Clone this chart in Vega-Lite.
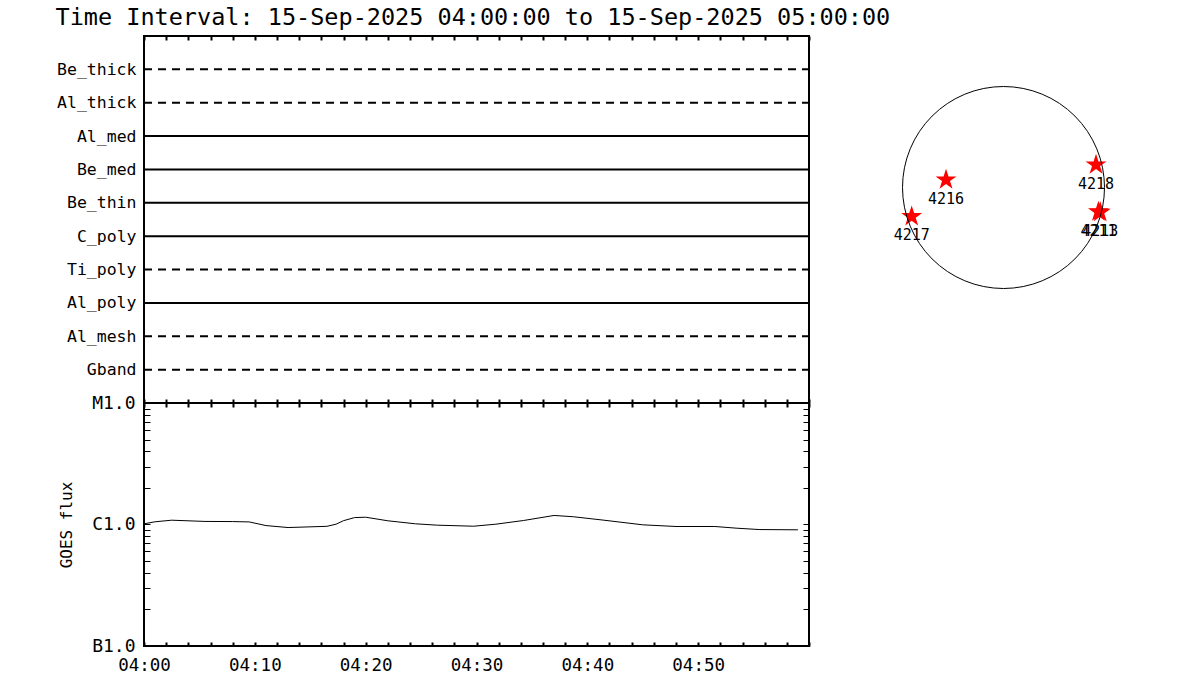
{
  "$schema": "https://vega.github.io/schema/vega-lite/v6.json",
  "background": "white",
  "padding": {"left": 55, "top": 5, "right": 5, "bottom": 5},
  "title": {
    "text": "Time Interval: 15-Sep-2025 04:00:00 to 15-Sep-2025 05:00:00",
    "anchor": "start", "font": "DejaVu Sans Mono", "fontSize": 23.5,
    "fontWeight": "normal", "color": "black", "offset": 5
  },
  "config": {
    "view": {"stroke": "black", "strokeWidth": 2},
    "axis": {"grid": false, "domain": false, "tickColor": "black", "labelColor": "black", "titleColor": "black"}
  },
  "datasets": {
    "goes": [
      {"time": "2025-09-15T04:00:00", "flux": 1.013e-6},
      {"time": "2025-09-15T04:01:00", "flux": 1.053e-6},
      {"time": "2025-09-15T04:02:30", "flux": 1.085e-6},
      {"time": "2025-09-15T04:05:30", "flux": 1.06e-6},
      {"time": "2025-09-15T04:08:00", "flux": 1.057e-6},
      {"time": "2025-09-15T04:09:30", "flux": 1.05e-6},
      {"time": "2025-09-15T04:11:00", "flux": 0.98e-6},
      {"time": "2025-09-15T04:13:00", "flux": 0.944e-6},
      {"time": "2025-09-15T04:16:30", "flux": 0.966e-6},
      {"time": "2025-09-15T04:17:20", "flux": 1.006e-6},
      {"time": "2025-09-15T04:18:00", "flux": 1.075e-6},
      {"time": "2025-09-15T04:19:00", "flux": 1.14e-6},
      {"time": "2025-09-15T04:20:00", "flux": 1.148e-6},
      {"time": "2025-09-15T04:22:00", "flux": 1.073e-6},
      {"time": "2025-09-15T04:24:30", "flux": 1.013e-6},
      {"time": "2025-09-15T04:26:30", "flux": 0.987e-6},
      {"time": "2025-09-15T04:29:45", "flux": 0.968e-6},
      {"time": "2025-09-15T04:31:45", "flux": 1.006e-6},
      {"time": "2025-09-15T04:34:15", "flux": 1.079e-6},
      {"time": "2025-09-15T04:37:00", "flux": 1.187e-6},
      {"time": "2025-09-15T04:38:45", "flux": 1.158e-6},
      {"time": "2025-09-15T04:41:30", "flux": 1.085e-6},
      {"time": "2025-09-15T04:45:00", "flux": 0.994e-6},
      {"time": "2025-09-15T04:48:00", "flux": 0.963e-6},
      {"time": "2025-09-15T04:51:30", "flux": 0.963e-6},
      {"time": "2025-09-15T04:53:30", "flux": 0.932e-6},
      {"time": "2025-09-15T04:55:30", "flux": 0.909e-6},
      {"time": "2025-09-15T04:59:00", "flux": 0.904e-6}
    ],
    "disk": [{"x": 0, "y": 0}],
    "regions": [
      {"ar": "4216", "x": -0.569, "y": 0.076},
      {"ar": "4217", "x": -0.909, "y": -0.287},
      {"ar": "4218", "x": 0.916, "y": 0.225},
      {"ar": "4211", "x": 0.94, "y": -0.24},
      {"ar": "4213", "x": 0.958, "y": -0.245}
    ]
  },
  "spacing": 41,
  "hconcat": [
    {
      "spacing": 0,
      "bounds": "flush",
      "vconcat": [
        {
          "width": 665, "height": 367,
          "data": {
            "values": [
              {"filter": "Be_thick", "observed": "no", "start": "2025-09-15T04:00:00", "end": "2025-09-15T05:00:00"},
              {"filter": "Al_thick", "observed": "no", "start": "2025-09-15T04:00:00", "end": "2025-09-15T05:00:00"},
              {"filter": "Al_med", "observed": "yes", "start": "2025-09-15T04:00:00", "end": "2025-09-15T05:00:00"},
              {"filter": "Be_med", "observed": "yes", "start": "2025-09-15T04:00:00", "end": "2025-09-15T05:00:00"},
              {"filter": "Be_thin", "observed": "yes", "start": "2025-09-15T04:00:00", "end": "2025-09-15T05:00:00"},
              {"filter": "C_poly", "observed": "yes", "start": "2025-09-15T04:00:00", "end": "2025-09-15T05:00:00"},
              {"filter": "Ti_poly", "observed": "no", "start": "2025-09-15T04:00:00", "end": "2025-09-15T05:00:00"},
              {"filter": "Al_poly", "observed": "yes", "start": "2025-09-15T04:00:00", "end": "2025-09-15T05:00:00"},
              {"filter": "Al_mesh", "observed": "no", "start": "2025-09-15T04:00:00", "end": "2025-09-15T05:00:00"},
              {"filter": "Gband", "observed": "no", "start": "2025-09-15T04:00:00", "end": "2025-09-15T05:00:00"}
            ],
            "format": {"parse": {"start": "date", "end": "date"}}
          },
          "layer": [
            {
              "mark": {"type": "rule", "strokeWidth": 2, "color": "black"},
              "encoding": {
                "y": {"field": "filter", "type": "nominal", "sort": null,
                  "scale": {"type": "point", "padding": 1},
                  "axis": {"title": null, "ticks": false, "domain": false, "labelFont": "DejaVu Sans Mono", "labelFontSize": 16.5, "labelPadding": 8, "labelColor": "black"}},
                "x": {"field": "start", "type": "temporal",
                  "scale": {"domain": [{"year": 2025, "month": 9, "date": 15, "hours": 4}, {"year": 2025, "month": 9, "date": 15, "hours": 5}], "nice": false},
                  "axis": {"orient": "top", "title": null, "labels": false, "domain": false, "grid": false,
                    "values": [
                      {"year": 2025, "month": 9, "date": 15, "hours": 4, "minutes": 0}, {"year": 2025, "month": 9, "date": 15, "hours": 4, "minutes": 2}, {"year": 2025, "month": 9, "date": 15, "hours": 4, "minutes": 4}, {"year": 2025, "month": 9, "date": 15, "hours": 4, "minutes": 6}, {"year": 2025, "month": 9, "date": 15, "hours": 4, "minutes": 8},
                      {"year": 2025, "month": 9, "date": 15, "hours": 4, "minutes": 10}, {"year": 2025, "month": 9, "date": 15, "hours": 4, "minutes": 12}, {"year": 2025, "month": 9, "date": 15, "hours": 4, "minutes": 14}, {"year": 2025, "month": 9, "date": 15, "hours": 4, "minutes": 16}, {"year": 2025, "month": 9, "date": 15, "hours": 4, "minutes": 18},
                      {"year": 2025, "month": 9, "date": 15, "hours": 4, "minutes": 20}, {"year": 2025, "month": 9, "date": 15, "hours": 4, "minutes": 22}, {"year": 2025, "month": 9, "date": 15, "hours": 4, "minutes": 24}, {"year": 2025, "month": 9, "date": 15, "hours": 4, "minutes": 26}, {"year": 2025, "month": 9, "date": 15, "hours": 4, "minutes": 28},
                      {"year": 2025, "month": 9, "date": 15, "hours": 4, "minutes": 30}, {"year": 2025, "month": 9, "date": 15, "hours": 4, "minutes": 32}, {"year": 2025, "month": 9, "date": 15, "hours": 4, "minutes": 34}, {"year": 2025, "month": 9, "date": 15, "hours": 4, "minutes": 36}, {"year": 2025, "month": 9, "date": 15, "hours": 4, "minutes": 38},
                      {"year": 2025, "month": 9, "date": 15, "hours": 4, "minutes": 40}, {"year": 2025, "month": 9, "date": 15, "hours": 4, "minutes": 42}, {"year": 2025, "month": 9, "date": 15, "hours": 4, "minutes": 44}, {"year": 2025, "month": 9, "date": 15, "hours": 4, "minutes": 46}, {"year": 2025, "month": 9, "date": 15, "hours": 4, "minutes": 48},
                      {"year": 2025, "month": 9, "date": 15, "hours": 4, "minutes": 50}, {"year": 2025, "month": 9, "date": 15, "hours": 4, "minutes": 52}, {"year": 2025, "month": 9, "date": 15, "hours": 4, "minutes": 54}, {"year": 2025, "month": 9, "date": 15, "hours": 4, "minutes": 56}, {"year": 2025, "month": 9, "date": 15, "hours": 4, "minutes": 58},
                      {"year": 2025, "month": 9, "date": 15, "hours": 5, "minutes": 0}
                    ],
                    "tickSize": -4, "tickWidth": 2, "tickColor": "black"}},
                "x2": {"field": "end"},
                "strokeDash": {"field": "observed", "type": "nominal",
                  "scale": {"domain": ["yes", "no"], "range": [[1, 0], [8, 6]]}, "legend": null}
              }
            },
            {
              "mark": {"type": "rule", "opacity": 0},
              "encoding": {
                "y": {"field": "filter", "type": "nominal", "sort": null,
                  "scale": {"type": "point", "padding": 1},
                  "axis": {"title": null, "ticks": false, "domain": false, "labelFont": "DejaVu Sans Mono", "labelFontSize": 16.5, "labelPadding": 8, "labelColor": "black"}},
                "x": {"field": "start", "type": "temporal",
                  "scale": {"domain": [{"year": 2025, "month": 9, "date": 15, "hours": 4}, {"year": 2025, "month": 9, "date": 15, "hours": 5}], "nice": false},
                  "axis": {"orient": "bottom", "title": null, "labels": false, "domain": false, "grid": false,
                    "values": [
                      {"year": 2025, "month": 9, "date": 15, "hours": 4, "minutes": 0}, {"year": 2025, "month": 9, "date": 15, "hours": 4, "minutes": 2}, {"year": 2025, "month": 9, "date": 15, "hours": 4, "minutes": 4}, {"year": 2025, "month": 9, "date": 15, "hours": 4, "minutes": 6}, {"year": 2025, "month": 9, "date": 15, "hours": 4, "minutes": 8},
                      {"year": 2025, "month": 9, "date": 15, "hours": 4, "minutes": 10}, {"year": 2025, "month": 9, "date": 15, "hours": 4, "minutes": 12}, {"year": 2025, "month": 9, "date": 15, "hours": 4, "minutes": 14}, {"year": 2025, "month": 9, "date": 15, "hours": 4, "minutes": 16}, {"year": 2025, "month": 9, "date": 15, "hours": 4, "minutes": 18},
                      {"year": 2025, "month": 9, "date": 15, "hours": 4, "minutes": 20}, {"year": 2025, "month": 9, "date": 15, "hours": 4, "minutes": 22}, {"year": 2025, "month": 9, "date": 15, "hours": 4, "minutes": 24}, {"year": 2025, "month": 9, "date": 15, "hours": 4, "minutes": 26}, {"year": 2025, "month": 9, "date": 15, "hours": 4, "minutes": 28},
                      {"year": 2025, "month": 9, "date": 15, "hours": 4, "minutes": 30}, {"year": 2025, "month": 9, "date": 15, "hours": 4, "minutes": 32}, {"year": 2025, "month": 9, "date": 15, "hours": 4, "minutes": 34}, {"year": 2025, "month": 9, "date": 15, "hours": 4, "minutes": 36}, {"year": 2025, "month": 9, "date": 15, "hours": 4, "minutes": 38},
                      {"year": 2025, "month": 9, "date": 15, "hours": 4, "minutes": 40}, {"year": 2025, "month": 9, "date": 15, "hours": 4, "minutes": 42}, {"year": 2025, "month": 9, "date": 15, "hours": 4, "minutes": 44}, {"year": 2025, "month": 9, "date": 15, "hours": 4, "minutes": 46}, {"year": 2025, "month": 9, "date": 15, "hours": 4, "minutes": 48},
                      {"year": 2025, "month": 9, "date": 15, "hours": 4, "minutes": 50}, {"year": 2025, "month": 9, "date": 15, "hours": 4, "minutes": 52}, {"year": 2025, "month": 9, "date": 15, "hours": 4, "minutes": 54}, {"year": 2025, "month": 9, "date": 15, "hours": 4, "minutes": 56}, {"year": 2025, "month": 9, "date": 15, "hours": 4, "minutes": 58},
                      {"year": 2025, "month": 9, "date": 15, "hours": 5, "minutes": 0}
                    ],
                    "tickSize": -4, "tickWidth": 2, "tickColor": "black"}},
                "x2": {"field": "end"}
              }
            }
          ],
          "resolve": {"axis": {"x": "independent"}}
        },
        {
          "width": 665, "height": 243,
          "data": {"name": "goes"},
          "layer": [
            {
              "mark": {"type": "line", "color": "black", "strokeWidth": 1},
              "encoding": {
                "x": {"field": "time", "type": "temporal",
                  "scale": {"domain": [{"year": 2025, "month": 9, "date": 15, "hours": 4}, {"year": 2025, "month": 9, "date": 15, "hours": 5}], "nice": false},
                  "axis": {"orient": "bottom", "title": null, "domain": false, "grid": false,
                    "values": [
                      {"year": 2025, "month": 9, "date": 15, "hours": 4, "minutes": 0}, {"year": 2025, "month": 9, "date": 15, "hours": 4, "minutes": 2}, {"year": 2025, "month": 9, "date": 15, "hours": 4, "minutes": 4}, {"year": 2025, "month": 9, "date": 15, "hours": 4, "minutes": 6}, {"year": 2025, "month": 9, "date": 15, "hours": 4, "minutes": 8},
                      {"year": 2025, "month": 9, "date": 15, "hours": 4, "minutes": 10}, {"year": 2025, "month": 9, "date": 15, "hours": 4, "minutes": 12}, {"year": 2025, "month": 9, "date": 15, "hours": 4, "minutes": 14}, {"year": 2025, "month": 9, "date": 15, "hours": 4, "minutes": 16}, {"year": 2025, "month": 9, "date": 15, "hours": 4, "minutes": 18},
                      {"year": 2025, "month": 9, "date": 15, "hours": 4, "minutes": 20}, {"year": 2025, "month": 9, "date": 15, "hours": 4, "minutes": 22}, {"year": 2025, "month": 9, "date": 15, "hours": 4, "minutes": 24}, {"year": 2025, "month": 9, "date": 15, "hours": 4, "minutes": 26}, {"year": 2025, "month": 9, "date": 15, "hours": 4, "minutes": 28},
                      {"year": 2025, "month": 9, "date": 15, "hours": 4, "minutes": 30}, {"year": 2025, "month": 9, "date": 15, "hours": 4, "minutes": 32}, {"year": 2025, "month": 9, "date": 15, "hours": 4, "minutes": 34}, {"year": 2025, "month": 9, "date": 15, "hours": 4, "minutes": 36}, {"year": 2025, "month": 9, "date": 15, "hours": 4, "minutes": 38},
                      {"year": 2025, "month": 9, "date": 15, "hours": 4, "minutes": 40}, {"year": 2025, "month": 9, "date": 15, "hours": 4, "minutes": 42}, {"year": 2025, "month": 9, "date": 15, "hours": 4, "minutes": 44}, {"year": 2025, "month": 9, "date": 15, "hours": 4, "minutes": 46}, {"year": 2025, "month": 9, "date": 15, "hours": 4, "minutes": 48},
                      {"year": 2025, "month": 9, "date": 15, "hours": 4, "minutes": 50}, {"year": 2025, "month": 9, "date": 15, "hours": 4, "minutes": 52}, {"year": 2025, "month": 9, "date": 15, "hours": 4, "minutes": 54}, {"year": 2025, "month": 9, "date": 15, "hours": 4, "minutes": 56}, {"year": 2025, "month": 9, "date": 15, "hours": 4, "minutes": 58},
                      {"year": 2025, "month": 9, "date": 15, "hours": 5, "minutes": 0}
                    ],
                    "tickSize": -4, "tickWidth": 2, "tickColor": "black",
                    "labelExpr": "minutes(datum.value) % 10 === 0 && hours(datum.value) < 5 ? timeFormat(datum.value, '%H:%M') : ''",
                    "labelFlush": false, "labelOverlap": false, "labelPadding": 14,
                    "labelFont": "DejaVu Sans Mono", "labelFontSize": 17.5, "labelColor": "black"}},
                "y": {"field": "flux", "type": "quantitative",
                  "scale": {"type": "log", "domain": [1e-7, 1e-5], "nice": false},
                  "axis": {"orient": "left", "title": "GOES flux", "titleFont": "DejaVu Sans Mono", "titleFontSize": 16,
                    "titleFontWeight": "normal", "titleColor": "black", "titlePadding": 17,
                    "values": [1e-7, 2e-7, 3e-7, 4e-7, 5e-7, 6e-7, 7e-7, 8e-7, 9e-7, 1e-6, 2e-6, 3e-6, 4e-6, 5e-6, 6e-6, 7e-6, 8e-6, 9e-6, 1e-5],
                    "labelExpr": "datum.value < 1.5e-7 ? 'B1.0' : (abs(datum.value - 1e-6) < 1e-9 ? 'C1.0' : (datum.value > 9.5e-6 ? 'M1.0' : ''))",
                    "labelFont": "DejaVu Sans Mono", "labelFontSize": 18, "labelPadding": 15, "labelColor": "black",
                    "labelOverlap": false, "labelFlush": false, "domain": false, "grid": false,
                    "tickSize": -6, "tickWidth": 1, "tickColor": "black"}}
              }
            },
            {
              "mark": {"type": "line", "strokeOpacity": 0},
              "encoding": {
                "x": {"field": "time", "type": "temporal",
                  "scale": {"domain": [{"year": 2025, "month": 9, "date": 15, "hours": 4}, {"year": 2025, "month": 9, "date": 15, "hours": 5}], "nice": false},
                  "axis": {"orient": "top", "title": null, "labels": false, "domain": false, "grid": false,
                    "values": [
                      {"year": 2025, "month": 9, "date": 15, "hours": 4, "minutes": 0}, {"year": 2025, "month": 9, "date": 15, "hours": 4, "minutes": 2}, {"year": 2025, "month": 9, "date": 15, "hours": 4, "minutes": 4}, {"year": 2025, "month": 9, "date": 15, "hours": 4, "minutes": 6}, {"year": 2025, "month": 9, "date": 15, "hours": 4, "minutes": 8},
                      {"year": 2025, "month": 9, "date": 15, "hours": 4, "minutes": 10}, {"year": 2025, "month": 9, "date": 15, "hours": 4, "minutes": 12}, {"year": 2025, "month": 9, "date": 15, "hours": 4, "minutes": 14}, {"year": 2025, "month": 9, "date": 15, "hours": 4, "minutes": 16}, {"year": 2025, "month": 9, "date": 15, "hours": 4, "minutes": 18},
                      {"year": 2025, "month": 9, "date": 15, "hours": 4, "minutes": 20}, {"year": 2025, "month": 9, "date": 15, "hours": 4, "minutes": 22}, {"year": 2025, "month": 9, "date": 15, "hours": 4, "minutes": 24}, {"year": 2025, "month": 9, "date": 15, "hours": 4, "minutes": 26}, {"year": 2025, "month": 9, "date": 15, "hours": 4, "minutes": 28},
                      {"year": 2025, "month": 9, "date": 15, "hours": 4, "minutes": 30}, {"year": 2025, "month": 9, "date": 15, "hours": 4, "minutes": 32}, {"year": 2025, "month": 9, "date": 15, "hours": 4, "minutes": 34}, {"year": 2025, "month": 9, "date": 15, "hours": 4, "minutes": 36}, {"year": 2025, "month": 9, "date": 15, "hours": 4, "minutes": 38},
                      {"year": 2025, "month": 9, "date": 15, "hours": 4, "minutes": 40}, {"year": 2025, "month": 9, "date": 15, "hours": 4, "minutes": 42}, {"year": 2025, "month": 9, "date": 15, "hours": 4, "minutes": 44}, {"year": 2025, "month": 9, "date": 15, "hours": 4, "minutes": 46}, {"year": 2025, "month": 9, "date": 15, "hours": 4, "minutes": 48},
                      {"year": 2025, "month": 9, "date": 15, "hours": 4, "minutes": 50}, {"year": 2025, "month": 9, "date": 15, "hours": 4, "minutes": 52}, {"year": 2025, "month": 9, "date": 15, "hours": 4, "minutes": 54}, {"year": 2025, "month": 9, "date": 15, "hours": 4, "minutes": 56}, {"year": 2025, "month": 9, "date": 15, "hours": 4, "minutes": 58},
                      {"year": 2025, "month": 9, "date": 15, "hours": 5, "minutes": 0}
                    ],
                    "tickSize": -4, "tickWidth": 2, "tickColor": "black"}},
                "y": {"field": "flux", "type": "quantitative",
                  "scale": {"type": "log", "domain": [1e-7, 1e-5], "nice": false},
                  "axis": {"orient": "right", "title": null, "labels": false, "domain": false, "grid": false,
                    "values": [1e-7, 2e-7, 3e-7, 4e-7, 5e-7, 6e-7, 7e-7, 8e-7, 9e-7, 1e-6, 2e-6, 3e-6, 4e-6, 5e-6, 6e-6, 7e-6, 8e-6, 9e-6, 1e-5],
                    "tickSize": -6, "tickWidth": 1, "tickColor": "black"}}
              }
            }
          ],
          "resolve": {"axis": {"x": "independent", "y": "independent"}}
        }
      ]
    },
    {
      "width": 303, "height": 303,
      "view": {"stroke": null},
      "layer": [
        {
          "data": {"name": "regions"},
          "mark": {"type": "point", "shape": "M0,-1L0.2245,-0.309L0.951,-0.309L0.363,0.118L0.588,0.809L0,0.382L-0.588,0.809L-0.363,0.118L-0.951,-0.309L-0.2245,-0.309Z",
            "filled": true, "color": "#ff0000", "size": 484, "opacity": 1},
          "encoding": {
            "x": {"field": "x", "type": "quantitative", "scale": {"domain": [-1.5, 1.5], "nice": false, "zero": false}, "axis": null},
            "y": {"field": "y", "type": "quantitative", "scale": {"domain": [-1.5, 1.5], "nice": false, "zero": false}, "axis": null}
          }
        },
        {
          "data": {"name": "disk"},
          "mark": {"type": "point", "shape": "circle", "filled": false, "color": "black", "strokeWidth": 1, "size": 40804, "opacity": 1},
          "encoding": {
            "x": {"field": "x", "type": "quantitative", "scale": {"domain": [-1.5, 1.5], "nice": false, "zero": false}, "axis": null},
            "y": {"field": "y", "type": "quantitative", "scale": {"domain": [-1.5, 1.5], "nice": false, "zero": false}, "axis": null}
          }
        },
        {
          "data": {"name": "regions"},
          "mark": {"type": "text", "dy": 19, "font": "DejaVu Sans Mono", "fontSize": 15, "color": "black", "baseline": "middle", "align": "center"},
          "encoding": {
            "x": {"field": "x", "type": "quantitative", "scale": {"domain": [-1.5, 1.5], "nice": false, "zero": false}, "axis": null},
            "y": {"field": "y", "type": "quantitative", "scale": {"domain": [-1.5, 1.5], "nice": false, "zero": false}, "axis": null},
            "text": {"field": "ar"}
          }
        }
      ]
    }
  ]
}
